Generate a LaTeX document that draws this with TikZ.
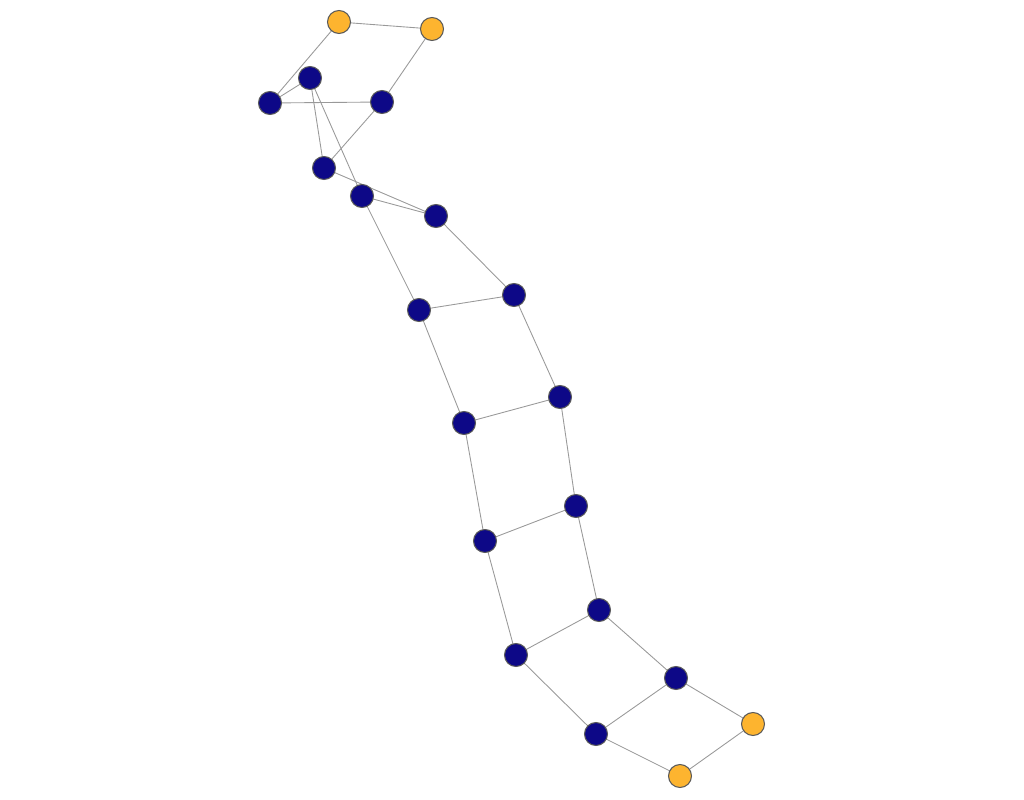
\documentclass[tikz,border=0pt]{standalone}
\usepackage{tikz}
\definecolor{navy}{RGB}{13,8,135}
\definecolor{amber}{RGB}{253,180,47}
\tikzset{
    vert/.style={circle, draw=black!65, line width=0.6pt, minimum size=4.6mm, inner sep=0pt},
    link/.style={draw=black!40, line width=0.5pt}
}

\begin{document}
\begin{tikzpicture}[x=0.02cm, y=-0.02cm]
    \useasboundingbox (0,0) rectangle (1024,800);
    % edges first, nodes on top
    \foreach \n/\x/\y in {
        a/339/22, b/432/29, c/753/724, d/680/776} {
        \coordinate (\n) at (\x,\y);
    }
    \foreach \n/\x/\y in {
        v1/310/78, v2/270/103, v3/382/102, v4/324/168,
        v5/362/196, v6/436/216, v7/514/295, v8/419/310,
        v9/560/397, v10/464/423, v11/576/506, v12/485/541,
        v13/599/610, v14/516/655, v15/676/678, v16/596/734} {
        \coordinate (\n) at (\x,\y);
    }
    \foreach \s/\t in {
        a/b, a/v2, b/v3, v2/v1, v2/v3, v1/v4, v1/v5, v3/v4,
        v4/v6, v5/v6, v5/v8, v6/v7, v7/v8, v8/v10, v7/v9,
        v9/v10, v10/v12, v9/v11, v11/v12, v12/v14, v11/v13,
        v13/v14, v13/v15, v14/v16, v15/v16, v15/c, v16/d, c/d} {
        \draw[link] (\s) -- (\t);
    }
    \foreach \n in {a,b,c,d} {
        \node[vert, fill=amber] at (\n) {};
    }
    \foreach \n in {v1,v2,v3,v4,v5,v6,v7,v8,v9,v10,v11,v12,v13,v14,v15,v16} {
        \node[vert, fill=navy] at (\n) {};
    }
\end{tikzpicture}
\end{document}
